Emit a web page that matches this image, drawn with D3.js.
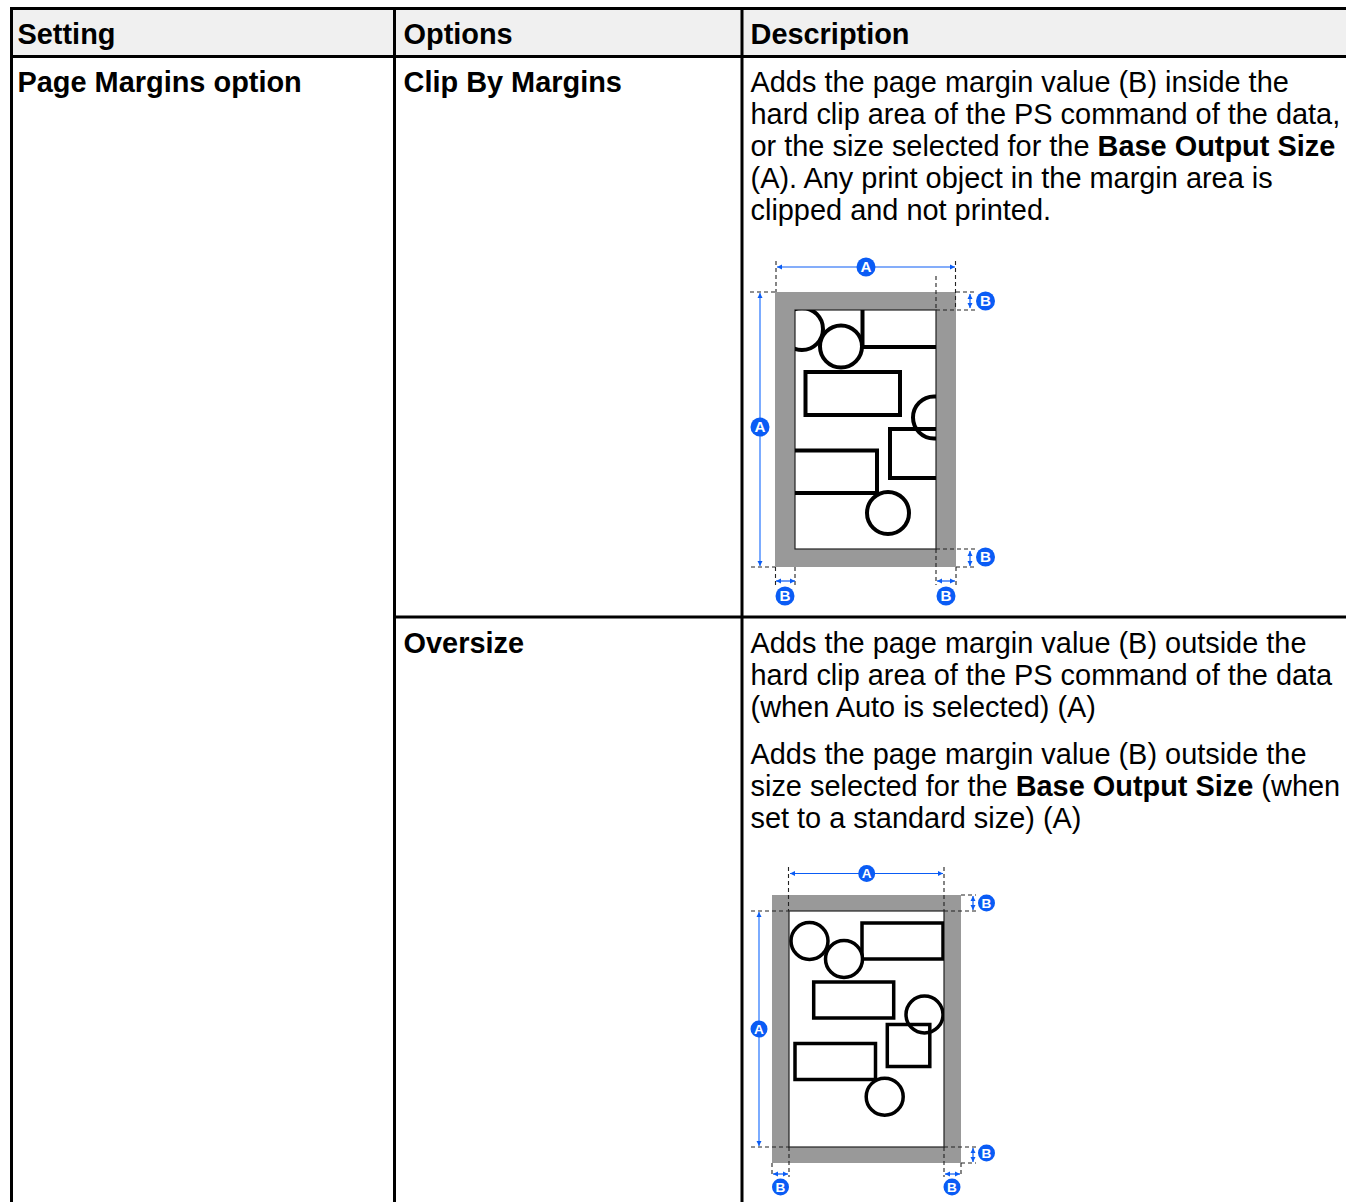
<!DOCTYPE html>
<html>
<head>
<meta charset="utf-8">
<script src="https://cdn.jsdelivr.net/npm/d3@7"></script>
<style>
html,body{margin:0;padding:0;background:#fff;overflow:hidden}
text{font-family:"Liberation Sans",Arial,sans-serif;font-size:28.92px;fill:#000}
</style>
</head>
<body>
<svg id="page" width="1346" height="1202"></svg>
<script>
//table text
var headers = ["Setting", "Options", "Description"];
var settingName = "Page Margins option";
var optionNames = ["Clip By Margins", "Oversize"];
//description lines, each line is a list of [text, isBold] runs
var clipLines = [
	[["Adds the page margin value (B) inside the", 0]],
	[["hard clip area of the PS command of the data,", 0]],
	[["or the size selected for the ", 0], ["Base Output Size", 1]],
	[["(A). Any print object in the margin area is", 0]],
	[["clipped and not printed.", 0]]
];
var oversizeLines = [
	[["Adds the page margin value (B) outside the", 0]],
	[["hard clip area of the PS command of the data", 0]],
	[["(when Auto is selected) (A)", 0]]
];
var oversizeLines2 = [
	[["Adds the page margin value (B) outside the", 0]],
	[["size selected for the ", 0], ["Base Output Size", 1], [" (when", 0]],
	[["set to a standard size) (A)", 0]]
];

//diagram contents, in sheet units measured from the corner of the gray sheet
var clipCircles = [[27, 37, 21], [66, 54.5, 21], [159, 125.5, 21], [113, 221, 21]];
var clipRects = [[87.5, -20, 120, 75], [30.5, 80, 94.5, 43], [115, 137, 90, 49], [-20, 158.5, 122, 42.5]];
var overCircles = [[37.5, 46, 18.5], [72, 64, 18.5], [152.5, 119.5, 18.5], [112.7, 201.7, 18.5]];
var overRects = [[90, 28, 81, 36], [41.7, 87, 80, 36], [115.3, 129.5, 42.5, 42], [23, 148.5, 80.5, 36]];

var blue = "#0a5cf5";
var lightBlue = "#5b97ff";
var gray = "#999999";
var svg = d3.select("#page");

//table background and rules
function drawTable(){
	svg.append("rect").attr("x", 10).attr("y", 8).attr("width", 1336).attr("height", 48).attr("fill", "#f0f0f0");
	var rules = [[11.5, 7, 11.5, 1202], [394.5, 7, 394.5, 1202], [742, 7, 742, 1202],
		[10, 8.5, 1346, 8.5], [10, 56.5, 1346, 56.5], [394, 617, 1346, 617]];
	svg.selectAll("line.rule").data(rules).enter().append("line")
		.attr("class", "rule")
		.attr("x1", d => d[0]).attr("y1", d => d[1])
		.attr("x2", d => d[2]).attr("y2", d => d[3])
		.attr("stroke", "#000").attr("stroke-width", 3);
}

function boldText(x, y, str){
	svg.append("text").attr("x", x).attr("y", y).attr("font-weight", "bold").text(str);
}

//draws lines of mixed regular and bold runs
function drawLines(lines, x, y, step){
	lines.forEach(function(runs, i){
		var t = svg.append("text").attr("x", x).attr("y", y + i * step);
		runs.forEach(function(r){
			t.append("tspan").attr("font-weight", r[1] ? "bold" : "normal").attr("xml:space", "preserve").text(r[0]);
		});
	});
}

function badge(x, y, r, letter){
	svg.append("circle").attr("cx", x).attr("cy", y).attr("r", r).attr("fill", blue);
	svg.append("text").attr("x", x).attr("y", y + r * 0.56)
		.attr("text-anchor", "middle").attr("font-weight", "bold")
		.style("font-size", (r * 1.6) + "px").style("fill", "#fff").text(letter);
}

function dash(x1, y1, x2, y2){
	svg.append("line").attr("x1", x1).attr("y1", y1).attr("x2", x2).attr("y2", y2)
		.attr("stroke", "#222").attr("stroke-width", 1.1).attr("stroke-dasharray", "4 3");
}

//double headed dimension arrow
function arrow(x1, y1, x2, y2, color, width){
	svg.append("line").attr("x1", x1).attr("y1", y1).attr("x2", x2).attr("y2", y2)
		.attr("stroke", color).attr("stroke-width", width);
	var horiz = y1 == y2;
	[[x1, y1, 1], [x2, y2, -1]].forEach(function(p){
		var a = 5 * p[2], b = 2.5;
		var pts = horiz
			? [[p[0], p[1]], [p[0] + a, p[1] - b], [p[0] + a, p[1] + b]]
			: [[p[0], p[1]], [p[0] - b, p[1] + a], [p[0] + b, p[1] + a]];
		svg.append("polygon").attr("points", pts.join(" ")).attr("fill", blue);
	});
}

//one sheet: gray border, white printable area, clipped shapes
function drawSheet(id, box, inner, circles, rects, strokeW){
	var x = d3.scaleLinear().domain([0, box.x1 - box.x0]).range([box.x0, box.x1]);
	var y = d3.scaleLinear().domain([0, box.y1 - box.y0]).range([box.y0, box.y1]);
	svg.append("rect").attr("x", box.x0).attr("y", box.y0)
		.attr("width", box.x1 - box.x0).attr("height", box.y1 - box.y0).attr("fill", gray);
	svg.append("rect").attr("x", inner.x0).attr("y", inner.y0)
		.attr("width", inner.x1 - inner.x0).attr("height", inner.y1 - inner.y0)
		.attr("fill", "#fff").attr("stroke", "#222").attr("stroke-width", 1.2);
	svg.append("clipPath").attr("id", id).append("rect")
		.attr("x", inner.x0).attr("y", inner.y0)
		.attr("width", inner.x1 - inner.x0).attr("height", inner.y1 - inner.y0);
	var g = svg.append("g").attr("clip-path", "url(#" + id + ")");
	g.selectAll("circle.under").data(circles.slice(0, 1).concat(circles.slice(2, 3))).enter().append("circle")
		.attr("class", "under")
		.attr("cx", d => x(d[0])).attr("cy", d => y(d[1])).attr("r", d => d[2])
		.attr("fill", "none").attr("stroke", "#000").attr("stroke-width", strokeW);
	g.selectAll("rect").data(rects).enter().append("rect")
		.attr("x", d => x(d[0])).attr("y", d => y(d[1]))
		.attr("width", d => d[2]).attr("height", d => d[3])
		.attr("fill", "none").attr("stroke", "#000").attr("stroke-width", strokeW);
	g.selectAll("circle.over").data([circles[1], circles[3]]).enter().append("circle")
		.attr("class", "over")
		.attr("cx", d => x(d[0])).attr("cy", d => y(d[1])).attr("r", d => d[2])
		.attr("fill", "#fff").attr("stroke", "#000").attr("stroke-width", strokeW);
}

drawTable();
headers.forEach(function(h, i){ boldText([17.5, 403.5, 750.5][i], 44, h); });
boldText(17.5, 92, settingName);
boldText(403.5, 92, optionNames[0]);
boldText(403.5, 653, optionNames[1]);
drawLines(clipLines, 750.5, 92, 32);
drawLines(oversizeLines, 750.5, 653, 32);
drawLines(oversizeLines2, 750.5, 764, 32);

//first diagram, clip by margins
drawSheet("clipA", {x0: 775, y0: 292, x1: 956, y1: 567}, {x0: 795, y0: 310, x1: 936, y1: 549}, clipCircles, clipRects, 4);
dash(776, 261, 776, 292); dash(955.5, 261, 955.5, 310); dash(936, 276, 936, 310);
dash(956, 292, 975, 292); dash(936, 310, 975, 310);
dash(750, 292, 776, 292); dash(751, 567, 775, 567);
dash(936, 549, 975, 549); dash(956, 567, 975, 567);
dash(775.5, 567, 775.5, 585); dash(795, 567, 795, 585);
dash(936, 549, 936, 585); dash(956, 567, 956, 585);
arrow(777, 267, 955, 267, blue, 1.2);
arrow(760, 293, 760, 566, lightBlue, 1.6);
arrow(970, 294, 970, 308, blue, 1.2);
arrow(970, 551, 970, 566, blue, 1.2);
arrow(776, 581, 795, 581, blue, 1.2);
arrow(937, 581, 955, 581, blue, 1.2);
badge(866, 267, 9.5, "A"); badge(760, 427, 9.5, "A");
badge(985.5, 301, 9.5, "B"); badge(985.5, 557, 9.5, "B");
badge(785, 596, 9.5, "B"); badge(946, 596, 9.5, "B");

//second diagram, oversize
drawSheet("overA", {x0: 772, y0: 895, x1: 961, y1: 1163}, {x0: 789, y0: 911, x1: 944, y1: 1147}, overCircles, overRects, 3.5);
dash(788.5, 867, 788.5, 911); dash(944, 867, 944, 911);
dash(961, 895, 976, 895); dash(944, 911, 976, 911);
dash(751, 911, 789, 911); dash(751, 1147, 789, 1147);
dash(944, 1147, 976, 1147); dash(961, 1163, 976, 1163);
dash(772, 1163, 772, 1177); dash(789, 1147, 789, 1177);
dash(944, 1147, 944, 1177); dash(961, 1163, 961, 1177);
arrow(790, 873.5, 943, 873.5, blue, 1.2);
arrow(759, 912, 759, 1146, lightBlue, 1.6);
arrow(973, 896, 973, 910, blue, 1.2);
arrow(973, 1148, 973, 1162, blue, 1.2);
arrow(773, 1174, 788, 1174, blue, 1.2);
arrow(945, 1174, 960, 1174, blue, 1.2);
badge(866.7, 873.5, 8.5, "A"); badge(759, 1029, 8.5, "A");
badge(986.5, 903, 8.5, "B"); badge(986.5, 1153, 8.5, "B");
badge(780.5, 1187, 8.5, "B"); badge(952, 1187, 8.5, "B");
</script>
</body>
</html>
